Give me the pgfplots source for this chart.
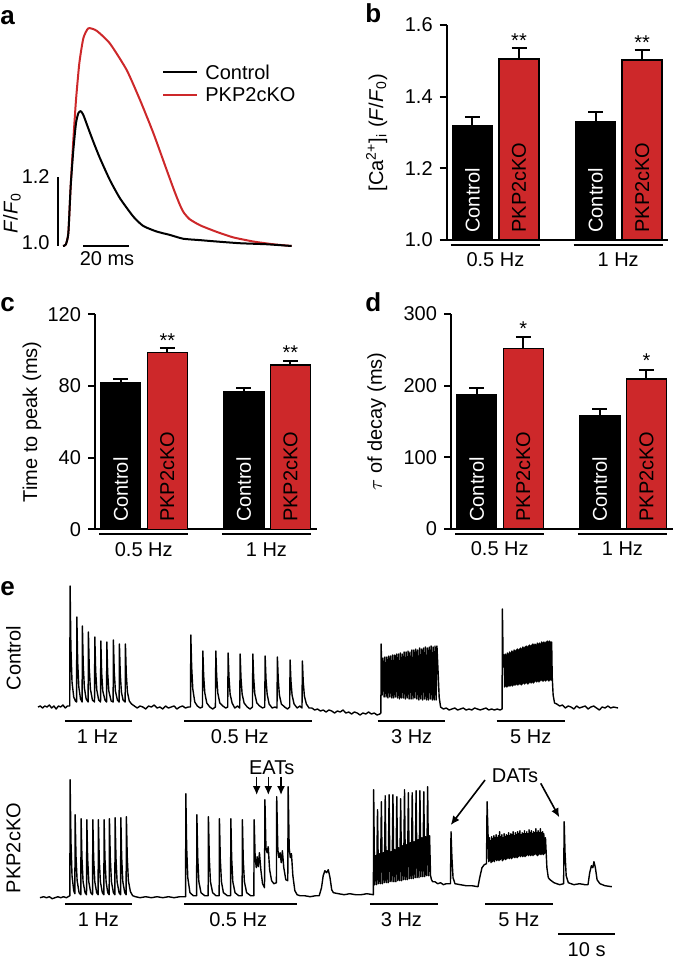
\documentclass[border=0pt]{standalone}
\usepackage{fontspec}
\setmainfont{Liberation Sans}
\usepackage{pgfplots}
\pgfplotsset{compat=1.18}
\usetikzlibrary{arrows.meta}
\definecolor{cRed}{RGB}{205,40,42}

\pgfplotsset{
  barpanel/.style={
    scale only axis, width=110.8pt, height=107.5pt,
    xmin=0.45, xmax=5.2,
    axis x line*=bottom, axis y line*=left,
    axis line style={line width=1pt},
    xtick=\empty, tick align=outside,
    major tick length=3.5pt,
    ytick style={line width=1pt, black},
    ybar, bar width=0.857, bar shift=0pt,
    clip mode=individual,
    ylabel style={anchor=center},
  },
  errb/.style={error bars/.cd, y dir=plus, y explicit,
    error bar style={line width=1pt, black},
    error mark options={rotate=90, line width=1pt, mark size=3.75pt, black}},
  trace/.style={black, line width=0.7pt, line join=round, mark=none},
}
\newcommand{\pl}{\fontsize{13}{13}\selectfont\bfseries}

\begin{document}
\begin{tikzpicture}
\path[use as bounding box] (0,0) rectangle (337.5pt,-480.5pt);

% ===== panel letters =====
\node[anchor=base west, inner sep=0pt, font=\pl] at (0pt,-12.5pt) {a};
\node[anchor=base west, inner sep=0pt, font=\pl] at (182.5pt,-11.5pt) {b};
\node[anchor=base west, inner sep=0pt, font=\pl] at (0pt,-156pt) {c};
\node[anchor=base west, inner sep=0pt, font=\pl] at (182.5pt,-156pt) {d};
\node[anchor=base west, inner sep=0pt, font=\pl] at (0pt,-297.5pt) {e};

% ===== a: averaged transients =====
\begin{axis}[at={(25.75pt,-128.175pt)}, anchor=south west,
  scale only axis, width=120.75pt, height=119.025pt, hide axis, clip=false,
  xmin=-5, xmax=100, ymin=0.97, ymax=1.66]
\addplot[cRed, line width=1pt, line join=round, smooth, tension=0.35] coordinates {
  (0,1.0) (1.2,1.004) (2.32,1.037) (3.33,1.172) (4.49,1.307) (5.65,1.423)
  (7.1,1.530) (8.84,1.602) (11.0,1.631) (14.6,1.624) (20.4,1.587) (27.7,1.510)
  (33.5,1.423) (39.3,1.327) (45.1,1.220) (48.5,1.158) (50.9,1.118) (52.5,1.097)
  (55,1.078) (59.6,1.060) (66.8,1.041) (74,1.025) (82.75,1.013) (91.4,1.005) (99.4,1.0)};
\addplot[black, line width=1pt, line join=round, smooth, tension=0.35] coordinates {
  (0,1.0) (1.2,1.004) (2.32,1.037) (3.33,1.172) (4.49,1.278) (5.65,1.356)
  (6.67,1.385) (7.68,1.391) (8.84,1.380) (11.0,1.341) (13.2,1.302) (16.1,1.254)
  (20.4,1.191) (24.8,1.138) (30.6,1.085) (34.9,1.058) (40.7,1.042) (46.5,1.032)
  (52.3,1.021) (59.6,1.017) (66.8,1.013) (77,1.008) (88.6,1.005) (99.4,1.0)};
% scale bars
\draw[line width=1pt] (axis cs:-2.17,1.0) -- (axis cs:-2.17,1.2);
\draw[line width=1pt] (axis cs:8.7,1.0) -- (axis cs:28.7,1.0);
\end{axis}
\node[rotate=90] at (6pt,-106.5pt) {\textit{F}/\textit{F}\textsubscript{0}};
\node[anchor=east, inner sep=0pt] at (25pt,-88.5pt) {1.2};
\node[anchor=east, inner sep=0pt] at (25pt,-121.5pt) {1.0};
\node at (53.5pt,-129.5pt) {20 ms};
\draw[line width=1pt] (81.5pt,-36pt) -- (98.5pt,-36pt);
\node[anchor=west, inner sep=0pt] at (102.5pt,-36pt) {Control};
\draw[cRed, line width=1pt] (81.5pt,-47.5pt) -- (98.5pt,-47.5pt);
\node[anchor=west, inner sep=0pt] at (102.5pt,-47.5pt) {PKP2cKO};

% ===== b: amplitude =====
\begin{axis}[barpanel, at={(223.35pt,-120pt)}, anchor=south west,
  ymin=1.0, ymax=1.6, ytick={1.0,1.2,1.4,1.6}, yticklabels={1.0,1.2,1.4,1.6},
  ylabel={[Ca\textsuperscript{2+}]\textsubscript{i} (\textit{F}/\textit{F}\textsubscript{0})},
  ylabel style={at={(axis description cs:-0.316,0.5)}}]
\addplot[fill=black, draw=black, line width=0.75pt, errb] coordinates {
  (1,1.318) +- (0,0.026) (3.64,1.330) +- (0,0.028)};
\addplot[fill=cRed, draw=black, line width=0.75pt, errb] coordinates {
  (2,1.505) +- (0,0.030) (4.64,1.502) +- (0,0.028)};
\node[rotate=90, anchor=west, inner sep=0pt, white] at (axis cs:1,1.0195) {Control};
\node[rotate=90, anchor=west, inner sep=0pt] at (axis cs:2,1.0195) {PKP2cKO};
\node[rotate=90, anchor=west, inner sep=0pt, white] at (axis cs:3.64,1.0195) {Control};
\node[rotate=90, anchor=west, inner sep=0pt] at (axis cs:4.64,1.0195) {PKP2cKO};
\node[anchor=base] at (axis cs:2,1.537) {**};
\node[anchor=base] at (axis cs:4.64,1.532) {**};
\draw[line width=1pt] (axis cs:0.54,0.986) -- (axis cs:2.45,0.986);
\draw[line width=1pt] (axis cs:3.17,0.986) -- (axis cs:5.08,0.986);
\node at (axis cs:1.495,0.944) {0.5 Hz};
\node at (axis cs:4.125,0.944) {1 Hz};
\end{axis}

% ===== c: time to peak =====
\begin{axis}[barpanel, at={(47.5pt,-264.65pt)}, anchor=south west,
  ymin=0, ymax=120, ytick={0,40,80,120}, yticklabels={0,40,80,120},
  ylabel={Time to peak (ms)},
  ylabel style={at={(axis description cs:-0.284,0.5)}}]
\addplot[fill=black, draw=black, line width=0.75pt, errb] coordinates {
  (1,82.0) +- (0,1.9) (3.64,76.5) +- (0,2.5)};
\addplot[fill=cRed, draw=black, line width=0.75pt, errb] coordinates {
  (2,98.6) +- (0,2.4) (4.64,91.7) +- (0,2.4)};
\node[rotate=90, anchor=west, inner sep=0pt, white] at (axis cs:1,3.9) {Control};
\node[rotate=90, anchor=west, inner sep=0pt] at (axis cs:2,3.9) {PKP2cKO};
\node[rotate=90, anchor=west, inner sep=0pt, white] at (axis cs:3.64,3.9) {Control};
\node[rotate=90, anchor=west, inner sep=0pt] at (axis cs:4.64,3.9) {PKP2cKO};
\node[anchor=base] at (axis cs:2,101.6) {**};
\node[anchor=base] at (axis cs:4.64,94.7) {**};
\draw[line width=1pt] (axis cs:0.54,-2.8) -- (axis cs:2.45,-2.8);
\draw[line width=1pt] (axis cs:3.17,-2.8) -- (axis cs:5.08,-2.8);
\node at (axis cs:1.495,-11.2) {0.5 Hz};
\node at (axis cs:4.125,-11.2) {1 Hz};
\end{axis}

% ===== d: decay constant =====
\begin{axis}[barpanel, at={(225.5pt,-264.5pt)}, anchor=south west,
  ymin=0, ymax=300, ytick={0,100,200,300}, yticklabels={0,100,200,300},
  ylabel={$\tau$ of decay (ms)},
  ylabel style={at={(axis description cs:-0.335,0.5)}}]
\addplot[fill=black, draw=black, line width=0.75pt, errb] coordinates {
  (1,187.0) +- (0,10.2) (3.64,157.7) +- (0,9.7)};
\addplot[fill=cRed, draw=black, line width=0.75pt, errb] coordinates {
  (2,252.1) +- (0,15.4) (4.64,209.3) +- (0,12.6)};
\node[rotate=90, anchor=west, inner sep=0pt, white] at (axis cs:1,9.8) {Control};
\node[rotate=90, anchor=west, inner sep=0pt] at (axis cs:2,9.8) {PKP2cKO};
\node[rotate=90, anchor=west, inner sep=0pt, white] at (axis cs:3.64,9.8) {Control};
\node[rotate=90, anchor=west, inner sep=0pt] at (axis cs:4.64,9.8) {PKP2cKO};
\node[anchor=base] at (axis cs:2,270) {*};
\node[anchor=base] at (axis cs:4.64,225) {*};
\draw[line width=1pt] (axis cs:0.54,-7) -- (axis cs:2.45,-7);
\draw[line width=1pt] (axis cs:3.17,-7) -- (axis cs:5.08,-7);
\node at (axis cs:1.495,-27.9) {0.5 Hz};
\node at (axis cs:4.125,-27.9) {1 Hz};
\end{axis}

% ===== e: Control pacing trace =====
\begin{axis}[at={(19pt,-368.5pt)}, anchor=south west,
  scale only axis, width=294.84pt, height=80pt, hide axis, clip=false,
  xmin=0, xmax=104, ymin=-0.3, ymax=1.3]
\addplot[trace] coordinates {
  (0,0.00)(0.4,0.01)(0.8,-0.01)(1.2,0.01)(1.6,0.00)(2.0,0.02)(2.4,-0.01)(2.8,0.01)(3.2,-0.02)(3.6,0.01)(4.0,0.00)(4.4,0.02)(4.8,-0.01)(5.2,0.01)(5.6,0.01)
  (5.66,1.21)(5.8,0.60)(6.0,0.25)(6.3,0.10)(6.6,0.06)(6.8,0.05)
  (6.85,0.90)(7.0,0.45)(7.2,0.20)(7.5,0.08)(7.78,0.05)
  (7.83,0.81)(7.98,0.42)(8.18,0.19)(8.5,0.08)(8.84,0.05)
  (8.89,0.75)(9.04,0.39)(9.24,0.18)(9.6,0.07)(9.97,0.05)
  (10.02,0.70)(10.17,0.36)(10.37,0.17)(10.7,0.07)(11.03,0.05)
  (11.08,0.66)(11.23,0.34)(11.43,0.16)(11.8,0.07)(12.09,0.05)
  (12.14,0.65)(12.29,0.34)(12.49,0.16)(12.9,0.06)(13.25,0.05)
  (13.30,0.67)(13.45,0.35)(13.65,0.16)(14.0,0.07)(14.31,0.05)
  (14.36,0.63)(14.51,0.33)(14.71,0.15)(15.0,0.07)(15.37,0.05)
  (15.42,0.63)(15.57,0.33)(15.77,0.15)(16.1,0.06)(16.5,0.03)(17.0,0.01)
  (17.5,-0.01)(18.0,0.01)(18.5,0.00)(19.0,-0.02)(19.5,0.01)(20.0,0.00)(20.5,0.02)(21.0,-0.01)(21.5,0.00)(22.0,-0.02)
  (22.5,0.01)(23.0,-0.01)(23.5,0.00)(24.0,0.01)(24.5,-0.02)(25.0,0.00)(25.5,0.01)(26.0,-0.01)(26.5,0.00)(26.9,0.00)
  (26.95,0.72)(27.1,0.40)(27.3,0.18)(27.65,0.05)(28.1,0.01)(28.6,-0.01)(29.0,0.00)
  (29.07,0.56)(29.22,0.31)(29.42,0.14)(29.77,0.04)(30.3,0.00)(30.8,-0.02)(31.29,0.00)
  (31.36,0.56)(31.51,0.31)(31.71,0.14)(32.06,0.04)(32.6,0.01)(33.1,-0.01)(33.46,0.00)
  (33.53,0.54)(33.68,0.30)(33.88,0.13)(34.23,0.04)(34.7,-0.01)(35.2,0.01)(35.58,-0.01)
  (35.65,0.53)(35.80,0.29)(36.0,0.13)(36.35,0.04)(36.9,0.00)(37.4,-0.02)(37.82,0.00)
  (37.89,0.53)(38.04,0.29)(38.24,0.13)(38.59,0.04)(39.1,0.01)(39.6,-0.01)(39.99,0.00)
  (40.06,0.51)(40.21,0.28)(40.41,0.13)(40.76,0.03)(41.3,-0.01)(41.8,0.00)(42.15,-0.01)
  (42.22,0.50)(42.37,0.28)(42.57,0.12)(42.92,0.03)(43.5,0.00)(44.0,-0.02)(44.39,0.00)
  (44.46,0.47)(44.61,0.26)(44.81,0.12)(45.16,0.03)(45.7,-0.01)(46.2,0.01)(46.56,-0.01)
  (46.63,0.46)(46.78,0.25)(46.98,0.11)(47.33,0.03)(47.8,-0.01)
  (48.3,-0.01)(48.8,-0.03)(49.3,-0.02)(49.8,-0.04)(50.3,-0.03)(50.8,-0.05)(51.3,-0.03)(51.8,-0.04)(52.3,-0.06)(52.8,-0.04)
  (53.3,-0.05)(53.8,-0.03)(54.3,-0.06)(54.8,-0.05)(55.3,-0.07)(55.8,-0.05)(56.3,-0.06)(56.8,-0.08)(57.3,-0.06)(57.8,-0.07)
  (58.3,-0.05)(58.8,-0.07)(59.3,-0.06)(59.8,-0.08)(60.3,-0.07)(60.47,-0.06)
  (60.52,0.63)(60.70,0.12)(60.84,0.49)(61.04,0.10)(61.18,0.50)(61.38,0.10)(61.52,0.50)(61.72,0.09)
  (61.86,0.51)(62.06,0.10)(62.20,0.51)(62.40,0.09)(62.54,0.52)(62.74,0.09)(62.88,0.52)(63.08,0.10)
  (63.22,0.53)(63.42,0.09)(63.56,0.53)(63.76,0.08)(63.90,0.54)(64.10,0.09)(64.24,0.53)(64.44,0.09)
  (64.58,0.55)(64.78,0.08)(64.92,0.55)(65.12,0.09)(65.26,0.56)(65.46,0.08)(65.60,0.55)(65.80,0.08)
  (65.94,0.57)(66.14,0.08)(66.28,0.57)(66.48,0.09)(66.62,0.58)(66.82,0.08)(66.96,0.57)(67.16,0.07)
  (67.30,0.59)(67.50,0.08)(67.64,0.58)(67.84,0.07)(67.98,0.59)(68.18,0.08)(68.32,0.60)(68.52,0.07)
  (68.66,0.59)(68.86,0.07)(69.00,0.60)(69.20,0.08)(69.34,0.61)(69.54,0.07)(69.68,0.60)(69.88,0.07)
  (70.02,0.61)(70.22,0.07)(70.36,0.61)(70.60,0.30)(70.75,0.10)(71.0,0.00)(71.5,-0.02)
  (72.0,-0.01)(72.5,-0.03)(73.0,-0.02)(73.5,-0.01)(74.0,-0.03)(74.5,-0.02)(75.0,-0.01)(75.5,-0.03)(76.0,-0.02)(76.5,-0.03)
  (77.0,-0.01)(77.5,-0.02)(78.0,-0.03)(78.5,-0.02)(79.0,-0.01)(79.5,-0.03)(80.0,-0.02)(80.5,-0.03)(81.0,-0.02)(81.5,-0.03)(81.85,-0.02)
  (81.9,0.98)(82.05,0.40)
  (82.20,0.52)(82.30,0.20)(82.40,0.53)(82.50,0.21)(82.59,0.52)(82.69,0.20)(82.79,0.54)(82.89,0.21)
  (82.98,0.53)(83.08,0.21)(83.18,0.55)(83.28,0.21)(83.37,0.54)(83.47,0.22)(83.57,0.56)(83.67,0.21)
  (83.76,0.55)(83.86,0.22)(83.96,0.57)(84.06,0.22)(84.15,0.56)(84.25,0.22)(84.35,0.57)(84.45,0.23)
  (84.54,0.58)(84.64,0.22)(84.74,0.57)(84.84,0.23)(84.93,0.58)(85.03,0.23)(85.13,0.59)(85.23,0.22)
  (85.32,0.58)(85.42,0.23)(85.52,0.60)(85.62,0.24)(85.71,0.59)(85.81,0.23)(85.91,0.60)(86.01,0.24)
  (86.10,0.61)(86.20,0.24)(86.30,0.60)(86.40,0.23)(86.49,0.61)(86.59,0.24)(86.69,0.62)(86.79,0.25)
  (86.88,0.61)(86.98,0.24)(87.08,0.62)(87.18,0.25)(87.27,0.63)(87.37,0.24)(87.47,0.62)(87.57,0.25)
  (87.66,0.63)(87.76,0.26)(87.86,0.62)(87.96,0.25)(88.05,0.64)(88.15,0.26)(88.25,0.63)(88.35,0.25)
  (88.44,0.64)(88.54,0.26)(88.64,0.63)(88.74,0.27)(88.83,0.65)(88.93,0.26)(89.03,0.64)(89.13,0.26)
  (89.22,0.65)(89.32,0.27)(89.42,0.64)(89.52,0.26)(89.61,0.65)(89.71,0.27)(89.81,0.66)(89.91,0.27)
  (90.00,0.65)(90.10,0.26)(90.20,0.66)(90.30,0.27)(90.39,0.65)(90.49,0.27)(90.59,0.65)(90.69,0.30)
  (90.85,0.12)(91.1,0.04)(91.5,0.03)
  (92,0.01)(92.5,0.02)(93,-0.01)(93.5,0.01)(94,0.00)(94.5,-0.02)(95,0.01)(95.5,-0.01)(96,0.00)(96.5,0.01)
  (97,-0.02)(97.5,0.00)(98,0.01)(98.5,-0.01)(99,-0.03)(99.5,0.00)(100,-0.01)(100.5,0.01)(101,-0.01)(101.5,0.00)(102.3,-0.01)};
\draw[line width=1pt] (axis cs:4.76,-0.14) -- (axis cs:16.53,-0.14);
\draw[line width=1pt] (axis cs:25.75,-0.14) -- (axis cs:48.27,-0.14);
\draw[line width=1pt] (axis cs:59.91,-0.14) -- (axis cs:71.78,-0.14);
\draw[line width=1pt] (axis cs:80.9,-0.14) -- (axis cs:92.95,-0.14);
\node at (axis cs:10.5,-0.297) {1 Hz};
\node at (axis cs:35.6,-0.297) {0.5 Hz};
\node at (axis cs:65.9,-0.297) {3 Hz};
\node at (axis cs:86.9,-0.297) {5 Hz};
\end{axis}
\node[rotate=90] at (6.7pt,-329pt) {Control};

% ===== e: PKP2cKO pacing trace =====
\begin{axis}[at={(19pt,-478.85pt)}, anchor=south west,
  scale only axis, width=294.84pt, height=95pt, hide axis, clip=false,
  xmin=0, xmax=104, ymin=-0.6, ymax=1.3]
\addplot[trace] coordinates {
  (0.35,0.00)(1,0.01)(1.5,0.00)(2,0.01)(2.5,-0.01)(3,0.00)(3.5,0.01)(4,0.00)(4.5,0.01)(5,0.00)(5.62,0.02)
  (5.66,1.18)(5.82,0.55)(6.0,0.22)(6.3,0.07)(6.5,0.04)
  (6.55,0.83)(6.7,0.42)(6.9,0.17)(7.25,0.05)(7.55,0.03)
  (7.60,0.79)(7.75,0.40)(7.95,0.16)(8.3,0.05)(8.56,0.03)
  (8.61,0.78)(8.76,0.39)(8.96,0.16)(9.3,0.05)(9.62,0.03)
  (9.67,0.78)(9.82,0.39)(10.02,0.16)(10.35,0.05)(10.6,0.03)
  (10.65,0.78)(10.8,0.39)(11.0,0.16)(11.35,0.05)(11.61,0.03)
  (11.66,0.78)(11.81,0.39)(12.01,0.16)(12.3,0.05)(12.55,0.03)
  (12.60,0.79)(12.75,0.40)(12.95,0.16)(13.3,0.05)(13.55,0.03)
  (13.60,0.80)(13.75,0.40)(13.95,0.16)(14.3,0.05)(14.56,0.03)
  (14.61,0.80)(14.76,0.40)(14.96,0.16)(15.3,0.05)(15.54,0.03)
  (15.59,0.81)(15.74,0.41)(15.94,0.17)(16.3,0.06)(16.7,0.02)(17.2,0.01)
  (18,0.00)(19,0.01)(20,0.00)(21,0.01)(22,0.00)(23,0.01)(24,0.00)(25,0.01)(26.03,0.01)
  (26.07,1.04)(26.22,0.50)(26.42,0.20)(26.8,0.05)(27.4,0.02)(27.97,0.02)
  (28.02,0.83)(28.17,0.41)(28.37,0.16)(28.75,0.05)(29.4,0.02)(30.01,0.02)
  (30.06,0.81)(30.21,0.40)(30.41,0.16)(30.8,0.05)(31.4,0.02)(31.95,0.02)
  (32.00,0.79)(32.15,0.39)(32.35,0.16)(32.7,0.05)(33.4,0.02)(33.96,0.02)
  (34.01,0.79)(34.16,0.39)(34.36,0.16)(34.75,0.05)(35.4,0.02)(36.00,0.02)
  (36.05,0.78)(36.2,0.38)(36.4,0.16)(36.8,0.05)(37.5,0.02)(38.07,0.02)
  (38.12,0.78)(38.3,0.40)(38.5,0.30)(38.65,0.41)(38.85,0.31)(39.05,0.45)(39.3,0.28)(39.6,0.14)(39.95,0.10)
  (40.02,0.98)(40.2,0.50)(40.4,0.45)(40.6,0.51)(40.85,0.28)(41.2,0.17)(41.6,0.14)(42.05,0.15)
  (42.1,1.01)(42.3,0.48)(42.5,0.40)(42.7,0.45)(42.9,0.35)(43.1,0.47)(43.35,0.30)(43.7,0.18)(44.05,0.17)
  (44.12,1.11)(44.3,0.50)(44.5,0.40)(44.7,0.44)(44.95,0.22)(45.3,0.07)(45.7,0.03)(46.2,0.02)
  (47,0.02)(48,0.01)(49,0.02)(49.6,0.02)
  (50.0,0.10)(50.3,0.22)(50.6,0.27)(50.9,0.25)(51.2,0.28)(51.5,0.20)(51.8,0.08)(52.1,0.05)
  (53,0.04)(54,0.03)(55,0.04)(56,0.03)(57,0.03)(58,0.04)(59.15,0.03)
  (59.20,1.08)(59.37,0.13)(59.54,0.42)(59.71,0.13)(59.88,0.88)(60.05,0.14)(60.22,0.44)(60.39,0.14)
  (60.56,0.96)(60.73,0.14)(60.90,0.45)(61.07,0.15)(61.24,1.02)(61.41,0.15)(61.58,0.47)(61.75,0.15)
  (61.92,1.03)(62.09,0.16)(62.26,0.46)(62.43,0.16)(62.60,1.03)(62.77,0.16)(62.94,0.48)(63.11,0.16)
  (63.28,1.01)(63.45,0.17)(63.62,0.50)(63.79,0.17)(63.96,0.99)(64.13,0.17)(64.30,0.52)(64.47,0.18)
  (64.64,1.08)(64.81,0.18)(64.98,0.53)(65.15,0.18)(65.32,1.05)(65.49,0.19)(65.66,0.55)(65.83,0.19)
  (66.00,1.05)(66.17,0.19)(66.34,0.56)(66.51,0.20)(66.68,1.07)(66.85,0.20)(67.02,0.58)(67.19,0.20)
  (67.36,1.07)(67.53,0.21)(67.70,0.60)(67.87,0.21)(68.04,1.06)(68.21,0.21)(68.38,0.61)(68.55,0.22)
  (68.72,1.11)(68.89,0.22)(69.06,0.62)(69.23,0.22)
  (69.4,0.18)(69.6,0.16)(70.0,0.16)(70.5,0.14)(71.0,0.15)(71.5,0.13)(72.0,0.14)(72.75,0.14)
  (72.84,0.66)(73.0,0.40)(73.2,0.20)(73.54,0.14)
  (74.5,0.13)(75.5,0.12)(76.5,0.12)(77.6,0.11)
  (77.9,0.20)(78.3,0.30)(78.7,0.33)(79.1,0.34)(79.2,0.96)
  (79.40,0.58)(79.50,0.36)(79.60,0.60)(79.70,0.37)(79.80,0.57)(79.90,0.35)(80.00,0.61)(80.10,0.36)
  (80.20,0.59)(80.30,0.37)(80.40,0.62)(80.50,0.36)(80.60,0.60)(80.70,0.38)(80.80,0.63)(80.90,0.37)
  (81.00,0.60)(81.10,0.38)(81.20,0.62)(81.30,0.37)(81.40,0.66)(81.50,0.38)(81.60,0.61)(81.70,0.39)
  (81.80,0.63)(81.90,0.37)(82.00,0.60)(82.10,0.38)(82.20,0.64)(82.30,0.39)(82.40,0.61)(82.50,0.38)
  (82.60,0.63)(82.70,0.39)(82.80,0.62)(82.90,0.40)(83.00,0.65)(83.10,0.39)(83.20,0.62)(83.30,0.40)
  (83.40,0.64)(83.50,0.39)(83.60,0.63)(83.70,0.40)(83.80,0.66)(83.90,0.41)(84.00,0.62)(84.10,0.40)
  (84.20,0.65)(84.30,0.41)(84.40,0.63)(84.50,0.40)(84.60,0.66)(84.70,0.41)(84.80,0.64)(84.90,0.42)
  (85.00,0.67)(85.10,0.41)(85.20,0.63)(85.30,0.42)(85.40,0.65)(85.50,0.41)(85.60,0.64)(85.70,0.42)
  (85.80,0.67)(85.90,0.41)(86.00,0.64)(86.10,0.42)(86.20,0.66)(86.30,0.43)(86.40,0.64)(86.50,0.42)
  (86.60,0.68)(86.70,0.43)(86.80,0.65)(86.90,0.42)(87.00,0.67)(87.10,0.43)(87.20,0.64)(87.30,0.42)
  (87.40,0.66)(87.50,0.43)(87.60,0.65)(87.70,0.44)(87.80,0.69)(87.90,0.43)(88.00,0.65)(88.10,0.42)
  (88.20,0.67)(88.30,0.43)(88.40,0.65)(88.50,0.44)(88.60,0.69)(88.70,0.43)(88.80,0.65)(88.90,0.44)
  (89.00,0.66)(89.10,0.43)(89.20,0.64)(89.30,0.44)
  (89.5,0.60)(89.75,0.30)(90.0,0.20)(90.3,0.18)(91.0,0.15)(92.0,0.13)(92.7,0.14)
  (92.8,0.76)(92.95,0.45)(93.15,0.22)(93.53,0.15)
  (94.5,0.13)(95.5,0.14)(96.5,0.13)(97.0,0.13)
  (97.3,0.25)(97.6,0.32)(97.85,0.30)(98.05,0.36)(98.3,0.30)(98.6,0.18)(99.1,0.14)
  (100,0.12)(101.2,0.11)};
\draw[line width=1pt] (axis cs:4.76,-0.066) -- (axis cs:16.53,-0.066);
\draw[line width=1pt] (axis cs:25.75,-0.066) -- (axis cs:45.73,-0.066);
\draw[line width=1pt] (axis cs:58.55,-0.066) -- (axis cs:70.6,-0.066);
\draw[line width=1pt] (axis cs:78.84,-0.066) -- (axis cs:90.78,-0.066);
\node at (axis cs:10.64,-0.223) {1 Hz};
\node at (axis cs:35.3,-0.223) {0.5 Hz};
\node at (axis cs:64.1,-0.223) {3 Hz};
\node at (axis cs:84.8,-0.223) {5 Hz};
% 10 s scale bar
\draw[line width=1pt] (axis cs:91.76,-0.366) -- (axis cs:101.76,-0.366);
\node at (axis cs:96.76,-0.523) {10 s};
% EATs / DATs annotations
\node at (axis cs:41.22,1.297) {EATs};
\draw[line width=0.8pt, -{Latex[length=4.5pt,width=4pt]}] (axis cs:38.57,1.21) -- (axis cs:38.57,1.027);
\draw[line width=0.8pt, -{Latex[length=4.5pt,width=4pt]}] (axis cs:40.62,1.21) -- (axis cs:40.62,1.027);
\draw[line width=0.8pt, -{Latex[length=4.5pt,width=4pt]}] (axis cs:42.86,1.21) -- (axis cs:42.86,1.027);
\node at (axis cs:84.13,1.217) {DATs};
\draw[line width=0.8pt, -{Latex[length=4.5pt,width=4pt]}] (axis cs:78.84,1.177) -- (axis cs:72.79,0.727);
\draw[line width=0.8pt, -{Latex[length=4.5pt,width=4pt]}] (axis cs:88.66,1.144) -- (axis cs:91.94,0.804);
\end{axis}
\node[rotate=90] at (6.7pt,-424pt) {PKP2cKO};
\end{tikzpicture}
\end{document}
